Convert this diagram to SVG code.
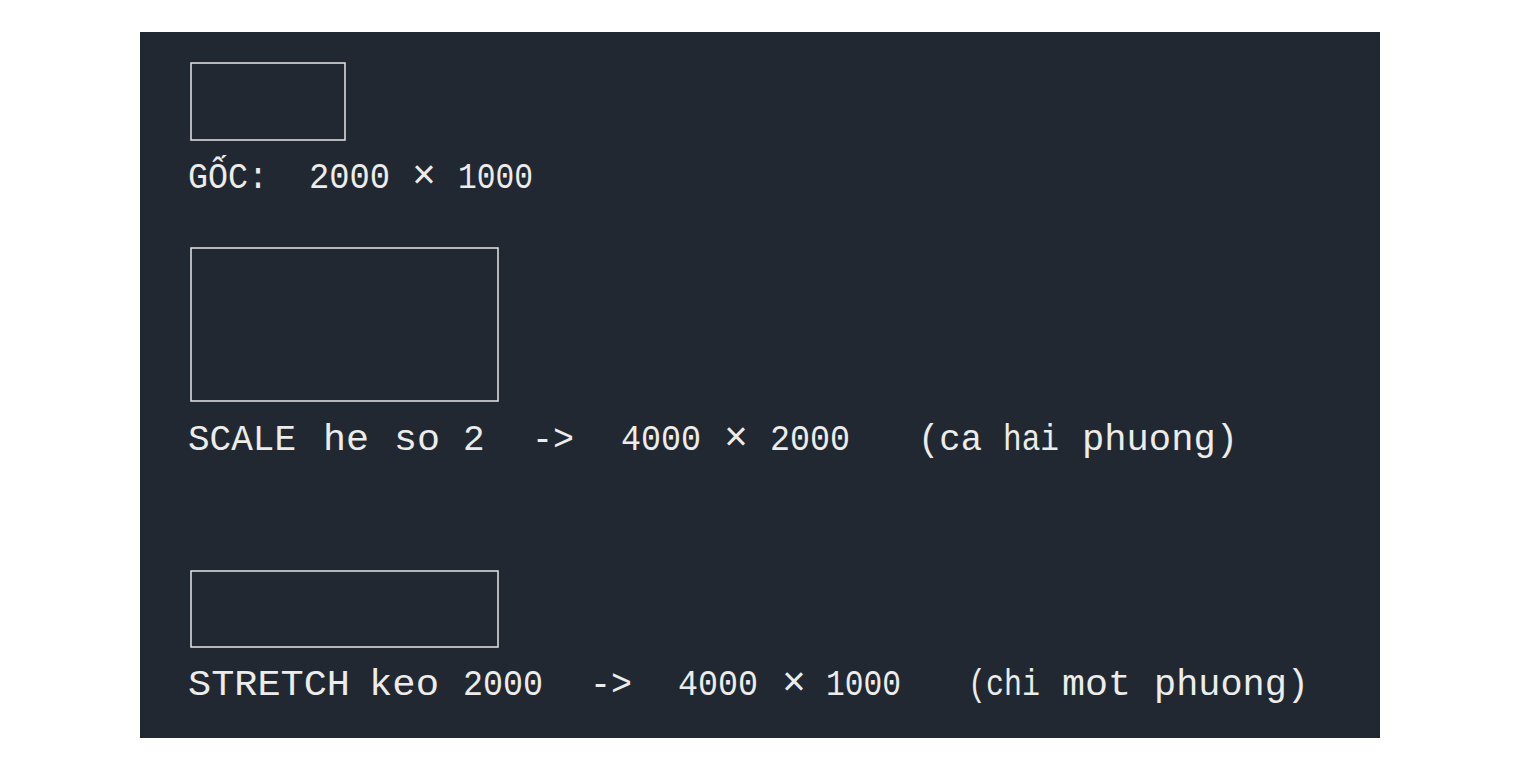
<svg xmlns="http://www.w3.org/2000/svg" width="1520" height="770" viewBox="0 0 1520 770">
<style>
.bg{fill:#ffffff}
.panel{fill:#222831}
.box{fill:none;stroke:#e6e6e6;stroke-width:1.5}
.lbl{fill:#ececec;stroke:#222831;stroke-width:1.1;paint-order:stroke;font-family:"Liberation Mono","DejaVu Sans Mono",monospace;font-size:36px}
.lbl .x{font-size:40px}
</style>
<rect class="bg" x="0" y="0" width="1520" height="770"/>
<rect class="panel" x="140" y="32" width="1240" height="706"/>
<g id="goc">
<rect class="box" x="191" y="63" width="154" height="77"/>
<text class="lbl" y="188" lengthAdjust="spacingAndGlyphs"><tspan x="188" textLength="80" lengthAdjust="spacingAndGlyphs">GỐC:</tspan><tspan x="309" textLength="81" lengthAdjust="spacingAndGlyphs">2000</tspan><tspan class="x" x="412">×</tspan><tspan x="458" textLength="75" lengthAdjust="spacingAndGlyphs">1000</tspan></text>
</g>
<g id="scale">
<rect class="box" x="191" y="248" width="307" height="153"/>
<text class="lbl" y="450"><tspan x="188">SCALE</tspan><tspan x="323" textLength="46" lengthAdjust="spacingAndGlyphs">he</tspan><tspan x="394" textLength="46" lengthAdjust="spacingAndGlyphs">so</tspan><tspan x="463">2</tspan><tspan x="532" textLength="42" lengthAdjust="spacingAndGlyphs">-&gt;</tspan><tspan x="621" textLength="80" lengthAdjust="spacingAndGlyphs">4000</tspan><tspan class="x" x="724">×</tspan><tspan x="770" textLength="80" lengthAdjust="spacingAndGlyphs">2000</tspan><tspan x="918" textLength="64" lengthAdjust="spacingAndGlyphs">(ca</tspan><tspan x="1003" textLength="56" lengthAdjust="spacingAndGlyphs">hai</tspan><tspan x="1082" textLength="156" lengthAdjust="spacingAndGlyphs">phuong)</tspan></text>
</g>
<g id="stretch">
<rect class="box" x="191" y="571" width="307" height="76"/>
<text class="lbl" y="695"><tspan x="188" textLength="162" lengthAdjust="spacingAndGlyphs">STRETCH</tspan><tspan x="369" textLength="70" lengthAdjust="spacingAndGlyphs">keo</tspan><tspan x="463" textLength="80" lengthAdjust="spacingAndGlyphs">2000</tspan><tspan x="590" textLength="42" lengthAdjust="spacingAndGlyphs">-&gt;</tspan><tspan x="678" textLength="80" lengthAdjust="spacingAndGlyphs">4000</tspan><tspan class="x" x="782">×</tspan><tspan x="826" textLength="75" lengthAdjust="spacingAndGlyphs">1000</tspan><tspan x="968" textLength="72" lengthAdjust="spacingAndGlyphs">(chi</tspan><tspan x="1062" textLength="69" lengthAdjust="spacingAndGlyphs">mot</tspan><tspan x="1154" textLength="155" lengthAdjust="spacingAndGlyphs">phuong)</tspan></text>
</g>
<g id="connectors"></g>
</svg>
